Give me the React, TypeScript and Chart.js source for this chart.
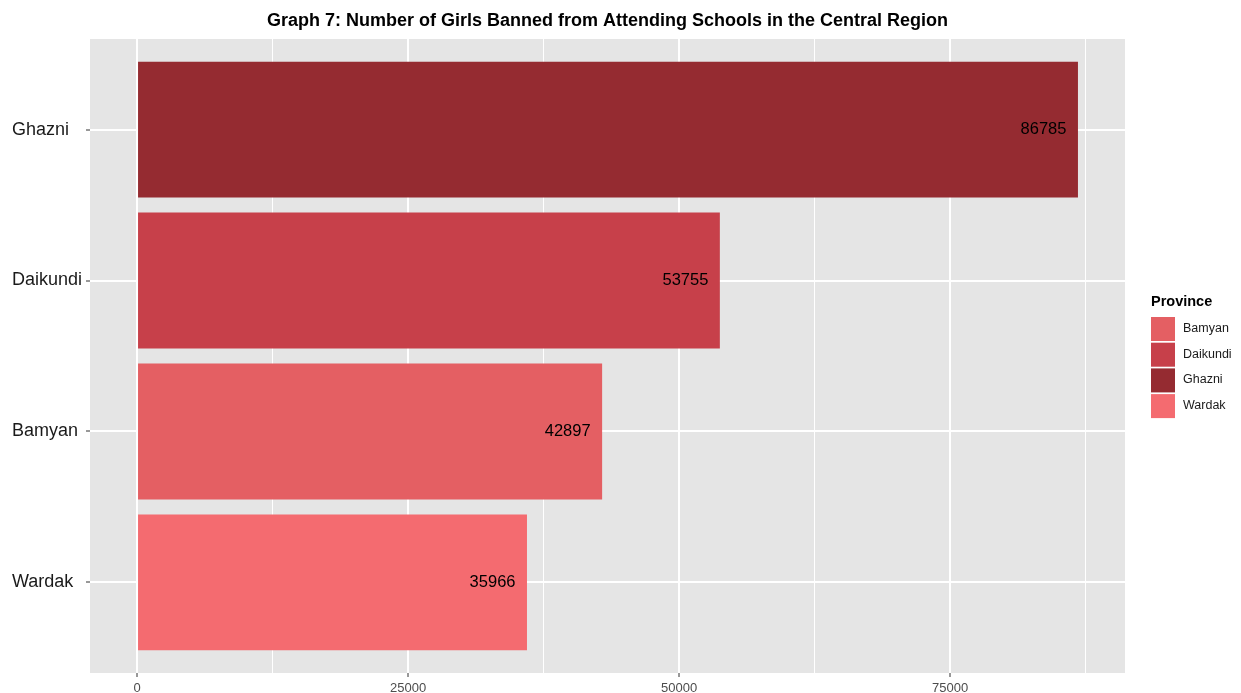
import React, { useEffect, useRef } from "react";
import { Chart, registerables } from "chart.js";

Chart.register(...registerables);

const provinces = ["Ghazni", "Daikundi", "Bamyan", "Wardak"];
const values = [86785, 53755, 42897, 35966];
const positions = [1, 2, 3, 4];
const barColors = ["#952b31", "#c7404a", "#e45f63", "#f46b70"];
const legendProvinces = ["Bamyan", "Daikundi", "Ghazni", "Wardak"];
const xTickValues = [0, 12500, 25000, 37500, 50000, 62500, 75000, 87500];
const xMajorStep = 25000;
const titleText = "Graph 7: Number of Girls Banned from Attending Schools in the Central Region";
const legendTitle = "Province";

const FONT = "'Liberation Sans', Arial, Helvetica, sans-serif";

export default function App() {
  const ref = useRef<HTMLCanvasElement | null>(null);

  useEffect(() => {
    document.body.style.margin = "0";
    const canvas = ref.current;
    if (!canvas) return;

    const maxVal = Math.max(...values);
    const expand = maxVal * 0.05;

    const bgPlugin = {
      id: "panelBg",
      beforeDraw(chart: any) {
        const { ctx, chartArea, width, height } = chart;
        ctx.save();
        ctx.fillStyle = "#ffffff";
        ctx.fillRect(0, 0, width, height);
        ctx.fillStyle = "#e5e5e5";
        ctx.fillRect(chartArea.left, chartArea.top, chartArea.right - chartArea.left, chartArea.bottom - chartArea.top);
        ctx.restore();
      },
    };

    const labelPlugin = {
      id: "barLabels",
      afterDatasetsDraw(chart: any) {
        const { ctx } = chart;
        const meta = chart.getDatasetMeta(0);
        ctx.save();
        ctx.font = `16.5px ${FONT}`;
        ctx.fillStyle = "#000000";
        ctx.textAlign = "right";
        ctx.textBaseline = "middle";
        meta.data.forEach((el: any, i: number) => {
          ctx.fillText(String(values[i]), el.x - 11.5, el.y);
        });
        ctx.restore();
      },
    };

    const titleLegendPlugin = {
      id: "titleLegend",
      afterDraw(chart: any) {
        const { ctx, chartArea } = chart;
        ctx.save();
        ctx.font = `bold 18px ${FONT}`;
        ctx.fillStyle = "#000000";
        ctx.textAlign = "center";
        ctx.textBaseline = "middle";
        ctx.fillText(titleText, (chartArea.left + chartArea.right) / 2, 21.5);

        const lx = chartArea.right + 26;
        ctx.textAlign = "left";
        ctx.font = `bold 14.5px ${FONT}`;
        ctx.fillText(legendTitle, lx, 302);
        ctx.font = `12.5px ${FONT}`;
        const keyTop = 317;
        const step = 25.7;
        legendProvinces.forEach((p, i) => {
          const idx = provinces.indexOf(p);
          const y0 = keyTop + i * step;
          ctx.fillStyle = barColors[idx];
          ctx.fillRect(lx, y0, 24, 24);
          ctx.fillStyle = "#1a1a1a";
          ctx.fillText(p, lx + 32, y0 + 11.5);
        });
        ctx.restore();
      },
    };

    const chart = new Chart(canvas, {
      type: "bar",
      data: {
        datasets: [
          {
            data: positions.map((p, i) => ({ x: values[i], y: p })),
            backgroundColor: barColors,
            borderWidth: 0,
            barPercentage: 0.9,
            categoryPercentage: 1,
          },
        ],
      },
      options: {
        indexAxis: "y",
        responsive: false,
        animation: false,
        events: [],
        layout: { padding: { left: 12, right: 116, top: 39, bottom: 0 } },
        plugins: {
          legend: { display: false },
          title: { display: false },
          tooltip: { enabled: false },
        },
        scales: {
          x: {
            type: "linear",
            min: -expand,
            max: maxVal + expand,
            afterBuildTicks(scale: any) {
              scale.ticks = xTickValues.map((v) => ({ value: v }));
            },
            afterFit(scale: any) {
              scale.height = 20;
            },
            border: { display: false },
            grid: {
              color: "#ffffff",
              lineWidth: (c: any) => (c.tick && c.tick.value % xMajorStep === 0 ? 2 : 1),
              tickColor: (c: any) => (c.tick && c.tick.value % xMajorStep === 0 ? "#333333" : "rgba(0,0,0,0)"),
              tickLength: 4,
              tickWidth: 1,
            },
            ticks: {
              autoSkip: false,
              maxRotation: 0,
              padding: 4,
              color: "#4d4d4d",
              font: { family: FONT, size: 13 },
              callback: (v: any) => (Number(v) % xMajorStep === 0 ? String(v) : ""),
            },
          },
          y: {
            type: "linear",
            min: 0.4,
            max: 4.6,
            reverse: true,
            offset: false,
            afterBuildTicks(scale: any) {
              scale.ticks = positions.map((v) => ({ value: v }));
            },
            afterFit(scale: any) {
              scale.width = 78;
            },
            border: { display: false },
            grid: {
              offset: false,
              color: "#ffffff",
              lineWidth: 2,
              tickColor: "#333333",
              tickLength: 4,
              tickWidth: 1,
            },
            ticks: {
              autoSkip: false,
              crossAlign: "far",
              color: "#1a1a1a",
              font: { family: FONT, size: 18 },
              callback: (v: any) => provinces[Number(v) - 1] ?? "",
            },
          },
        },
      },
      plugins: [bgPlugin, labelPlugin, titleLegendPlugin],
    } as any);

    return () => chart.destroy();
  }, []);

  return (
    <div style={{ position: "absolute", left: 0, top: 0, width: 1241, height: 693 }}>
      <canvas ref={ref} width={1241} height={693} />
    </div>
  );
}
